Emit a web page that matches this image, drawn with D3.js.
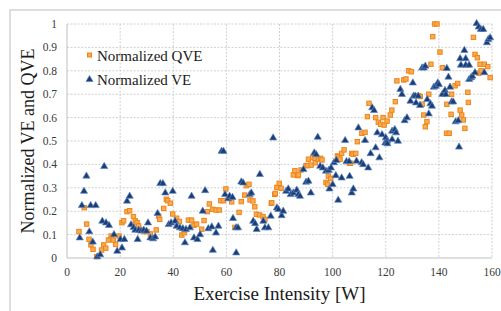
<!DOCTYPE html>
<html lang="en">
<head>
<meta charset="UTF-8">
<title>Normalized VE and QVE</title>
<script src="https://cdn.jsdelivr.net/npm/d3@7"></script>
<style>
    body { margin: 0; background: #fff; }
    svg text { font-family: "Liberation Serif", "Times New Roman", serif; }
    .grid line { stroke: #d0d0d0; stroke-dasharray: 2,1.5; }
    .tick-label { fill: #3a3a3a; font-size: 11.5px; font-family: "Liberation Serif", serif; }
</style>
</head>
<body>
<svg width="501" height="311"></svg>
<script>
// QVE (orange squares)
var qveIntensity = [4.5,6.5,7.4,8.3,9.0,9.8,11.2,13.0,13.8,14.6,15.6,16.6,17.4,18.3,19.6,20.7,21.3,22.6,23.6,25.0,
    25.7,26.4,27.0,28.2,29.1,30.1,31.4,33.6,34.5,34.9,36.4,37.4,37.9,38.9,39.8,41.3,42.3,43.2,44.1,44.4,
    45.7,46.9,47.8,48.8,50.7,51.6,52.8,53.6,54.9,56.1,57.3,57.9,58.9,59.8,60.7,62.0,63.2,64.8,65.6,66.9,
    67.5,68.5,68.9,70.0,70.7,71.3,72.5,73.8,74.5,76.9,77.1,78.2,78.4,79.0,79.9,80.6,85.2,85.8,86.9,87.1,
    88.1,90.0,90.6,90.9,91.9,92.5,93.4,93.5,94.6,95.5,96.0,97.5,98.1,98.4,99.3,101.8,102.4,102.8,103.4,104.3,
    106.3,106.8,107.2,107.7,108.7,109.3,111.0,112.2,113.1,113.7,116.2,117.2,118.1,119.0,119.4,120.5,121.7,122.3,123.6,124.2,
    126.8,127.6,128.6,129.6,132.4,133.0,133.7,134.3,134.9,135.5,136.2,137.0,137.7,138.4,139.3,140.4,141.3,142.9,143.0,143.9,
    144.6,144.8,146.1,147.1,148.0,148.6,149.2,149.8,150.9,151.1,153.0,153.6,154.5,155.1,155.5,155.9,157.1,158.4,159.3];
var qveValues = [0.113,0.215,0.145,0.080,0.056,0.037,0.006,0.034,0.056,0.042,0.077,0.094,0.077,0.058,0.094,0.151,0.159,0.198,0.202,0.177,
    0.159,0.151,0.137,0.120,0.113,0.113,0.103,0.120,0.179,0.165,0.212,0.251,0.245,0.234,0.188,0.170,0.156,0.098,0.108,0.120,
    0.162,0.162,0.140,0.145,0.123,0.160,0.198,0.231,0.208,0.205,0.205,0.245,0.245,0.295,0.262,0.240,0.131,0.195,0.241,0.269,
    0.309,0.315,0.248,0.244,0.219,0.187,0.184,0.177,0.165,0.234,0.236,0.272,0.276,0.302,0.319,0.298,0.355,0.373,0.352,0.355,
    0.376,0.395,0.395,0.422,0.397,0.429,0.426,0.407,0.422,0.426,0.419,0.323,0.315,0.350,0.340,0.436,0.433,0.422,0.447,0.462,
    0.405,0.405,0.447,0.443,0.447,0.497,0.533,0.537,0.604,0.661,0.600,0.580,0.571,0.600,0.568,0.585,0.611,0.632,0.668,0.757,
    0.761,0.765,0.800,0.796,0.694,0.690,0.657,0.611,0.561,0.583,0.700,0.828,0.946,1.000,1.000,0.880,0.813,0.533,0.657,0.533,
    0.614,0.700,0.736,0.746,0.632,0.611,0.590,0.554,0.708,0.665,0.943,0.870,0.856,0.790,0.828,0.800,0.828,0.818,0.771];

// VE (blue triangles)
var veIntensity = [4.8,5.6,6.4,7.3,8.4,8.9,9.7,10.8,11.4,12.5,13.3,14.0,14.7,15.8,17.7,18.9,20.1,20.7,21.6,22.6,
    23.6,24.1,25.1,25.7,26.6,27.0,27.9,28.9,29.9,30.5,31.4,32.4,33.2,34.1,35.1,36.1,37.0,38.3,39.2,39.8,
    40.7,41.3,42.5,43.6,44.4,44.8,46.3,46.9,47.8,49.1,50.1,51.1,52.0,53.2,54.5,54.9,56.1,57.0,58.2,58.9,
    59.5,60.7,61.2,62.3,62.5,63.7,63.7,64.4,65.6,66.3,68.8,69.4,70.1,70.8,71.4,72.6,73.9,74.5,75.8,76.7,
    77.6,79.0,79.6,80.8,81.4,82.5,83.3,84.2,85.2,86.5,87.1,87.7,89.0,90.0,90.9,91.8,93.1,93.8,94.4,95.3,
    96.3,97.5,98.5,98.8,99.4,100.0,100.5,101.2,101.4,102.1,103.4,104.7,105.2,106.2,106.4,107.2,107.8,109.0,109.7,110.9,
    111.5,112.2,113.4,114.3,114.9,115.6,116.2,116.8,117.6,118.6,119.8,120.0,120.5,120.6,122.4,122.4,123.4,123.9,124.6,125.5,
    126.1,127.1,128.0,129.3,130.2,130.5,131.1,131.4,132.2,132.9,133.7,134.3,134.9,135.6,136.2,136.8,137.4,138.1,138.8,139.6,
    140.0,141.3,142.3,142.6,143.0,143.6,144.2,144.8,145.4,146.3,147.3,147.6,148.0,148.3,149.6,150.1,150.1,151.4,151.4,152.1,
    152.6,153.6,154.2,155.0,155.8,156.7,157.1,158.1,158.6,159.3];
var veValues = [0.084,0.222,0.283,0.348,0.110,0.222,0.066,0.222,0.003,0.012,0.155,0.389,0.148,0.137,0.098,0.027,0.077,0.041,0.077,0.241,
    0.262,0.140,0.128,0.117,0.077,0.117,0.113,0.117,0.113,0.148,0.084,0.080,0.088,0.188,0.316,0.316,0.276,0.141,0.148,0.283,
    0.155,0.134,0.127,0.123,0.063,0.120,0.127,0.262,0.084,0.077,0.098,0.198,0.286,0.123,0.131,0.031,0.105,0.134,0.454,0.454,
    0.269,0.251,0.262,0.257,0.167,0.127,0.020,0.127,0.323,0.319,0.269,0.276,0.155,0.145,0.120,0.355,0.155,0.127,0.127,0.177,
    0.511,0.212,0.205,0.179,0.198,0.283,0.293,0.269,0.276,0.288,0.269,0.262,0.376,0.322,0.326,0.276,0.447,0.440,0.514,0.390,
    0.383,0.369,0.372,0.293,0.383,0.312,0.405,0.350,0.415,0.245,0.340,0.500,0.410,0.410,0.347,0.276,0.293,0.412,0.554,0.405,
    0.397,0.500,0.383,0.444,0.640,0.628,0.469,0.533,0.426,0.525,0.490,0.512,0.497,0.486,0.540,0.504,0.547,0.533,0.497,0.718,
    0.697,0.585,0.597,0.668,0.746,0.690,0.690,0.661,0.690,0.650,0.810,0.810,0.818,0.675,0.614,0.657,0.647,0.728,0.732,0.746,
    0.739,0.697,0.714,0.697,0.808,0.771,0.728,0.665,0.665,0.580,0.585,0.472,0.850,0.822,0.885,0.850,0.822,0.822,0.761,0.768,
    0.775,0.790,1.000,0.985,0.975,0.975,0.790,0.918,0.932,0.939];

var xTicks = [0, 20, 40, 60, 80, 100, 120, 140, 160];
var yTicks = [0, 0.1, 0.2, 0.3, 0.4, 0.5, 0.6, 0.7, 0.8, 0.9, 1];
var yTickLabels = ["0", "0.1", "0.2", "0.3", "0.4", "0.5", "0.6", "0.7", "0.8", "0.9", "1"];

var svg = d3.select("svg");
// plot area edges (named so they don't clash with window.top)
var plotLeft = 67, plotRight = 492, plotTop = 24, plotBottom = 258;

var x = d3.scaleLinear().domain([0, 160]).range([plotLeft, plotRight]);
var y = d3.scaleLinear().domain([0, 1]).range([plotBottom, plotTop]);

// outer chart frame (cropped on right and bottom)
svg.append("rect")
    .attr("x", 10).attr("y", 10)
    .attr("width", 600).attr("height", 400)
    .attr("fill", "none")
    .attr("stroke", "#d4d4d4")
    .attr("stroke-width", 1.5);

// gridlines
var grid = svg.append("g").attr("class", "grid");
grid.selectAll(".h").data(yTicks.slice(1)).enter().append("line")
    .attr("x1", plotLeft).attr("x2", plotRight)
    .attr("y1", function (d) { return y(d); })
    .attr("y2", function (d) { return y(d); });
grid.selectAll(".v").data(xTicks.slice(1)).enter().append("line")
    .attr("y1", plotTop).attr("y2", plotBottom)
    .attr("x1", function (d) { return x(d); })
    .attr("x2", function (d) { return x(d); });

// axis lines
svg.append("line").attr("x1", plotLeft).attr("x2", plotRight).attr("y1", plotBottom).attr("y2", plotBottom)
    .attr("stroke", "#bfbfbf").attr("stroke-width", 1);
svg.append("line").attr("x1", plotLeft).attr("x2", plotLeft).attr("y1", plotTop).attr("y2", plotBottom)
    .attr("stroke", "#bfbfbf").attr("stroke-width", 1);

// tick labels
svg.selectAll(".ytl").data(yTicks).enter().append("text")
    .attr("class", "tick-label")
    .attr("x", 57)
    .attr("y", function (d) { return y(d) + 4; })
    .attr("text-anchor", "end")
    .text(function (d, i) { return yTickLabels[i]; });

svg.selectAll(".xtl").data(xTicks).enter().append("text")
    .attr("class", "tick-label")
    .attr("x", function (d) { return x(d); })
    .attr("y", 276)
    .attr("text-anchor", "middle")
    .text(function (d) { return d; });

// axis titles
svg.append("text")
    .attr("transform", "translate(34," + ((plotTop + plotBottom) / 2) + ") rotate(-90)")
    .attr("text-anchor", "middle")
    .attr("font-size", "18px")
    .attr("fill", "#1a1a1a")
    .text("Normalized VE and QVE");

svg.append("text")
    .attr("x", (plotLeft + plotRight) / 2)
    .attr("y", 300)
    .attr("text-anchor", "middle")
    .attr("font-size", "19px")
    .attr("fill", "#1a1a1a")
    .text("Exercise Intensity [W]");

var qveData = qveIntensity.map(function (w, i) { return { w: w, v: qveValues[i] }; });
var veData = veIntensity.map(function (w, i) { return { w: w, v: veValues[i] }; });

// QVE squares
var sq = 4.4;
svg.append("g").selectAll("rect").data(qveData).enter().append("rect")
    .attr("x", function (d) { return x(d.w) - sq / 2; })
    .attr("y", function (d) { return y(d.v) - sq / 2; })
    .attr("width", sq).attr("height", sq)
    .attr("fill", "#f8aa55")
    .attr("stroke", "#ee8617")
    .attr("stroke-width", 1);

// VE triangles
var tri = d3.symbol().type(d3.symbolTriangle).size(22);
svg.append("g").selectAll("path").data(veData).enter().append("path")
    .attr("d", tri)
    .attr("transform", function (d) { return "translate(" + x(d.w) + "," + (y(d.v) - 0.5) + ")"; })
    .attr("fill", "#1d3c72")
    .attr("stroke", "#5a86c4")
    .attr("stroke-width", 0.7);

// legend
svg.append("rect")
    .attr("x", 87.5).attr("y", 53).attr("width", 4).attr("height", 4)
    .attr("fill", "#f8aa55").attr("stroke", "#ee8617").attr("stroke-width", 1);
svg.append("text")
    .attr("x", 97).attr("y", 61)
    .attr("font-size", "15px").attr("fill", "#1a1a1a")
    .text("Normalized QVE");
svg.append("path")
    .attr("d", tri)
    .attr("transform", "translate(89.5,79.5)")
    .attr("fill", "#1d3c72").attr("stroke", "#5a86c4").attr("stroke-width", 0.7);
svg.append("text")
    .attr("x", 97).attr("y", 85)
    .attr("font-size", "15px").attr("fill", "#1a1a1a")
    .text("Normalized VE");
</script>
</body>
</html>
